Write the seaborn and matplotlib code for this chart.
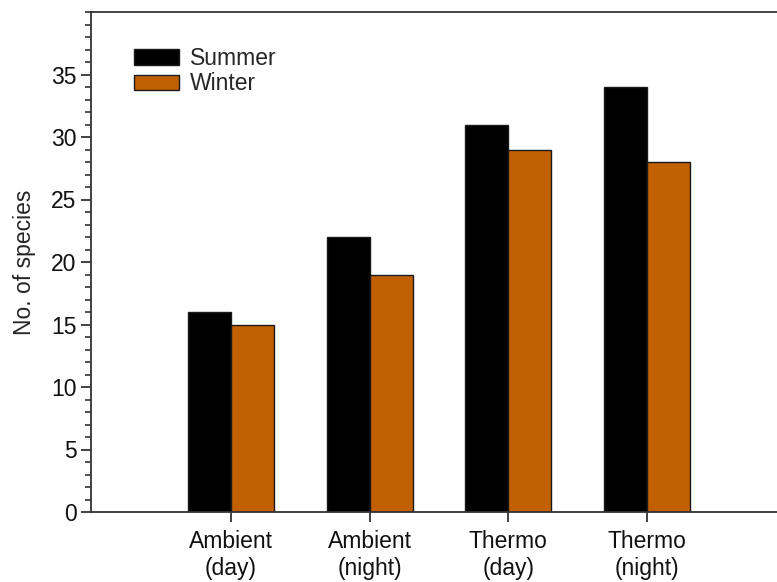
import matplotlib
matplotlib.use("Agg")
import matplotlib.pyplot as plt
from matplotlib.ticker import MultipleLocator
import seaborn as sns
import pandas as pd

categories = ["Ambient\n(day)", "Ambient\n(night)", "Thermo\n(day)", "Thermo\n(night)"]
seasons = ["Summer", "Winter"]
summer = [16, 22, 31, 34]
winter = [15, 19, 29, 28]
season_colors = {"Summer": "#000000", "Winter": "#C06000"}

df = pd.DataFrame({
    "site": categories * 2,
    "season": ["Summer"] * len(categories) + ["Winter"] * len(categories),
    "species": summer + winter,
})

sns.set_style("ticks")
plt.rcParams["font.family"] = ["Liberation Sans", "DejaVu Sans"]

W, H = 777, 582
fig = plt.figure(figsize=(W / 100, H / 100), dpi=100)
ax = fig.add_axes([91 / W, (H - 512) / H, (W - 91) / W + 0.01, 500 / H])

sns.barplot(data=df, x="site", y="species", hue="season", hue_order=seasons,
            order=categories, palette=season_colors, width=0.62,
            edgecolor="#1a1a1a", linewidth=1.0, saturation=1, ax=ax)

ax.set_xlim(-1.009, 3.993)
ax.set_ylim(0, 40)
ax.yaxis.set_major_locator(MultipleLocator(5))
ax.yaxis.set_minor_locator(MultipleLocator(1))
ax.set_yticks(range(0, 40, 5))
ax.set_ylabel("No. of species", fontsize=16.5, labelpad=11)
ax.set_xlabel("")

for side in ["left", "top", "bottom"]:
    ax.spines[side].set_linewidth(1.3)
    ax.spines[side].set_color("#333333")
ax.spines["right"].set_visible(False)

ax.tick_params(axis="both", which="major", labelsize=16.5, length=7, width=1.3,
               color="#333333", labelcolor="#111111", direction="out")
ax.tick_params(axis="y", which="minor", length=4, width=1.2, color="#333333",
               direction="out")
ax.tick_params(axis="x", which="major", pad=6)

ax.legend(title=None, frameon=False, fontsize=16.5, loc="upper left",
          bbox_to_anchor=(125 / W, 1 - 38 / H), bbox_transform=fig.transFigure,
          handlelength=1.95, handleheight=0.65, handletextpad=0.5,
          labelspacing=0.1, borderaxespad=0)

fig.savefig("out.png", dpi=100)
